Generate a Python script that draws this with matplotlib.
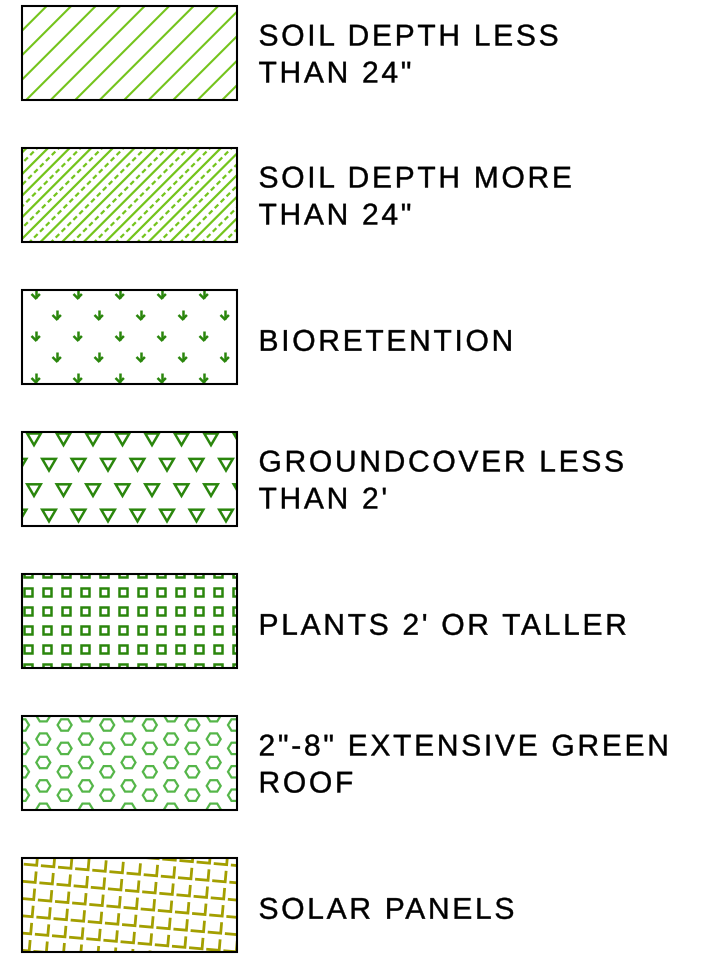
import numpy as np
import matplotlib
matplotlib.use("Agg")
import matplotlib.pyplot as plt
from matplotlib.patches import Rectangle, Polygon
from matplotlib.collections import LineCollection, PatchCollection
from matplotlib.patheffects import AbstractPathEffect
from matplotlib.path import Path
from matplotlib import font_manager
from matplotlib.textpath import TextToPath

# ---------------- data ----------------
labels = [
    ["SOIL DEPTH LESS", 'THAN 24"'],
    ["SOIL DEPTH MORE", 'THAN 24"'],
    ["BIORETENTION"],
    ["GROUNDCOVER LESS", "THAN 2'"],
    ["PLANTS 2' OR TALLER"],
    ['2"-8" EXTENSIVE GREEN', "ROOF"],
    ["SOLAR PANELS"],
]
patterns = ["diag", "diag_dash", "arrows", "triangles", "squares", "hexagons", "solar"]
colors = ["#74C41C", "#74C41C", "#2A860C", "#2A860C", "#2A860C", "#55B649", "#A39F00"]

# ---------------- layout ----------------
W, H = 703, 962
BOX_X, BOX_W, BOX_H, TOP0, STEP = 21.5, 215, 94, 7, 142
TEXT_X = 258.5
FS = 21.6
LS_PX = 2.7

plt.rcParams["lines.scale_dashes"] = False
fig = plt.figure(figsize=(W / 100, H / 100), dpi=100)
ax = fig.add_axes([0, 0, 1, 1])
ax.set_xlim(0, W)
ax.set_ylim(H, 0)
ax.axis("off")

prop = font_manager.FontProperties(family="Liberation Sans", size=FS)
_t2p = TextToPath()


def glyph_xpos(s):
    try:
        font = font_manager.get_font(font_manager.findfont(prop))
        font.set_size(_t2p.FONT_SCALE, _t2p.DPI)
        info = _t2p.get_glyphs_with_font(font, s)[0]
        return np.array([g[1] for g in info], dtype=float)
    except Exception:
        return None


class LetterSpacing(AbstractPathEffect):
    def __init__(self, s, spacing_px, stroke=0.3):
        super().__init__()
        self.xpos = glyph_xpos(s)
        self.sp = spacing_px
        self.stroke = stroke

    def draw_path(self, renderer, gc, tpath, affine, rgbFace=None):
        verts = np.array(tpath.vertices, dtype=float).copy()
        codes = tpath.codes
        if self.xpos is not None and codes is not None and len(verts):
            sx = abs(affine.get_matrix()[0, 0]) or 1.0
            sp = self.sp / sx
            starts = list(np.where(codes == Path.MOVETO)[0])
            ends = starts[1:] + [len(codes)]
            for a, b in zip(starts, ends):
                cx = 0.5 * (verts[a:b, 0].min() + verts[a:b, 0].max())
                idx = max(0, np.searchsorted(self.xpos, cx, side="right") - 1)
                verts[a:b, 0] += idx * sp
        gc0 = renderer.new_gc()
        gc0.copy_properties(gc)
        gc0.set_linewidth(self.stroke)
        if rgbFace is not None:
            gc0.set_foreground(rgbFace)
        renderer.draw_path(gc0, Path(verts, codes), affine, rgbFace)
        gc0.restore()


def clip_of(top):
    x0, x1 = BOX_X, BOX_X + BOX_W
    y0, y1 = top, top + BOX_H
    return Polygon([(x0, y0), (x1, y0), (x1, y1), (x0, y1)], closed=True,
                   transform=ax.transData)


def add_lines(segs, color, lw, top, ls="solid"):
    lc = LineCollection(segs, colors=color, linewidths=lw, linestyles=ls,
                        capstyle="butt", joinstyle="miter")
    ax.add_collection(lc)
    lc.set_clip_path(clip_of(top))


def add_polys(polys, color, lw, top):
    pc = PatchCollection([Polygon(p, closed=True) for p in polys],
                         facecolors="none", edgecolors=color, linewidths=lw,
                         joinstyle="miter")
    ax.add_collection(pc)
    pc.set_clip_path(clip_of(top))


def diag_segs(top, offsets):
    segs = []
    for c in offsets:
        x_top = BOX_X + c
        segs.append([(x_top + 20, top - 20), (x_top - 200, top + 200)])
    return segs


def draw_pattern(kind, color, top):
    if kind == "diag":
        add_lines(diag_segs(top, np.arange(0.7, 330, 24.5)), color, 1.5, top)
    elif kind == "diag_dash":
        add_lines(diag_segs(top, np.arange(5, 330, 21.6)), color, 1.6, top)
        add_lines(diag_segs(top, np.arange(15.8, 330, 21.6)), color, 1.6, top,
                  ls=(0, (3.6, 2.4)))
    elif kind == "arrows":
        segs = []
        for i in range(5):
            y = top + 4 + 21 * i
            x0 = 14.2 if i % 2 == 0 else 35.2
            for k in range(5):
                x = BOX_X + x0 + 42 * k
                segs.append([(x, y - 5.0), (x, y + 4.2)])
                segs.append([(x - 4.2, y), (x, y + 4.2), (x + 4.2, y)])
        add_lines(segs, color, 1.8, top)
    elif kind == "triangles":
        polys = []
        for i in range(4):
            y = top + 7.3 + 25.4 * i
            x0 = 12.5 if i % 2 == 0 else -2.0
            for k in range(9):
                x = BOX_X + x0 + 29.5 * k
                polys.append([(x - 6.8, y - 5.8), (x + 6.8, y - 5.8), (x, y + 5.8)])
        add_polys(polys, color, 1.8, top)
    elif kind == "squares":
        polys = []
        for i in range(6):
            y = top - 1 + 19 * i
            for k in range(12):
                x = BOX_X + 6.2 + 19 * k
                d = 4.2
                polys.append([(x - d, y - d), (x + d, y - d), (x + d, y + d), (x - d, y + d)])
        add_polys(polys, color, 1.8, top)
    elif kind == "hexagons":
        polys = []
        R, h = 7.0, 5.7
        for k in range(11):
            x = BOX_X + 0.5 + 21.3 * k
            y0 = -14.4 if k % 2 == 0 else -0.3
            for j in range(6):
                y = top + y0 + 23.4 * j
                polys.append([(x - R, y), (x - R / 2, y - h), (x + R / 2, y - h),
                              (x + R, y), (x + R / 2, y + h), (x - R / 2, y + h)])
        add_polys(polys, color, 1.6, top)
    elif kind == "solar":
        th = np.deg2rad(5.0)
        eu = np.array([np.cos(th), np.sin(th)])
        ev = np.array([-np.sin(th), np.cos(th)])
        anchor = np.array([BOX_X + 15.2, top + 7.3])
        cell = 17.2
        segs = []
        for i in range(-3, 16):
            for j in range(-3, 9):
                c = anchor + i * cell * eu + j * cell * ev
                segs.append([tuple(c - 13 * eu), tuple(c), tuple(c - 11 * ev)])
        add_lines(segs, color, 2.0, top)


for n, (lab, kind, col) in enumerate(zip(labels, patterns, colors)):
    top = TOP0 + STEP * n
    draw_pattern(kind, col, top)
    ax.add_patch(Rectangle((BOX_X, top), BOX_W, BOX_H, fill=False,
                           edgecolor="black", linewidth=1.5, zorder=5))
    if len(lab) == 2:
        baselines = [top + 39.5, top + 76.5]
    else:
        baselines = [top + BOX_H / 2 + 3 + 10.75]
    for s, yb in zip(lab, baselines):
        ax.text(TEXT_X, yb, s, fontproperties=prop, color="black",
                ha="left", va="baseline",
                path_effects=[LetterSpacing(s, LS_PX)])

fig.savefig("out.png", dpi=100)
